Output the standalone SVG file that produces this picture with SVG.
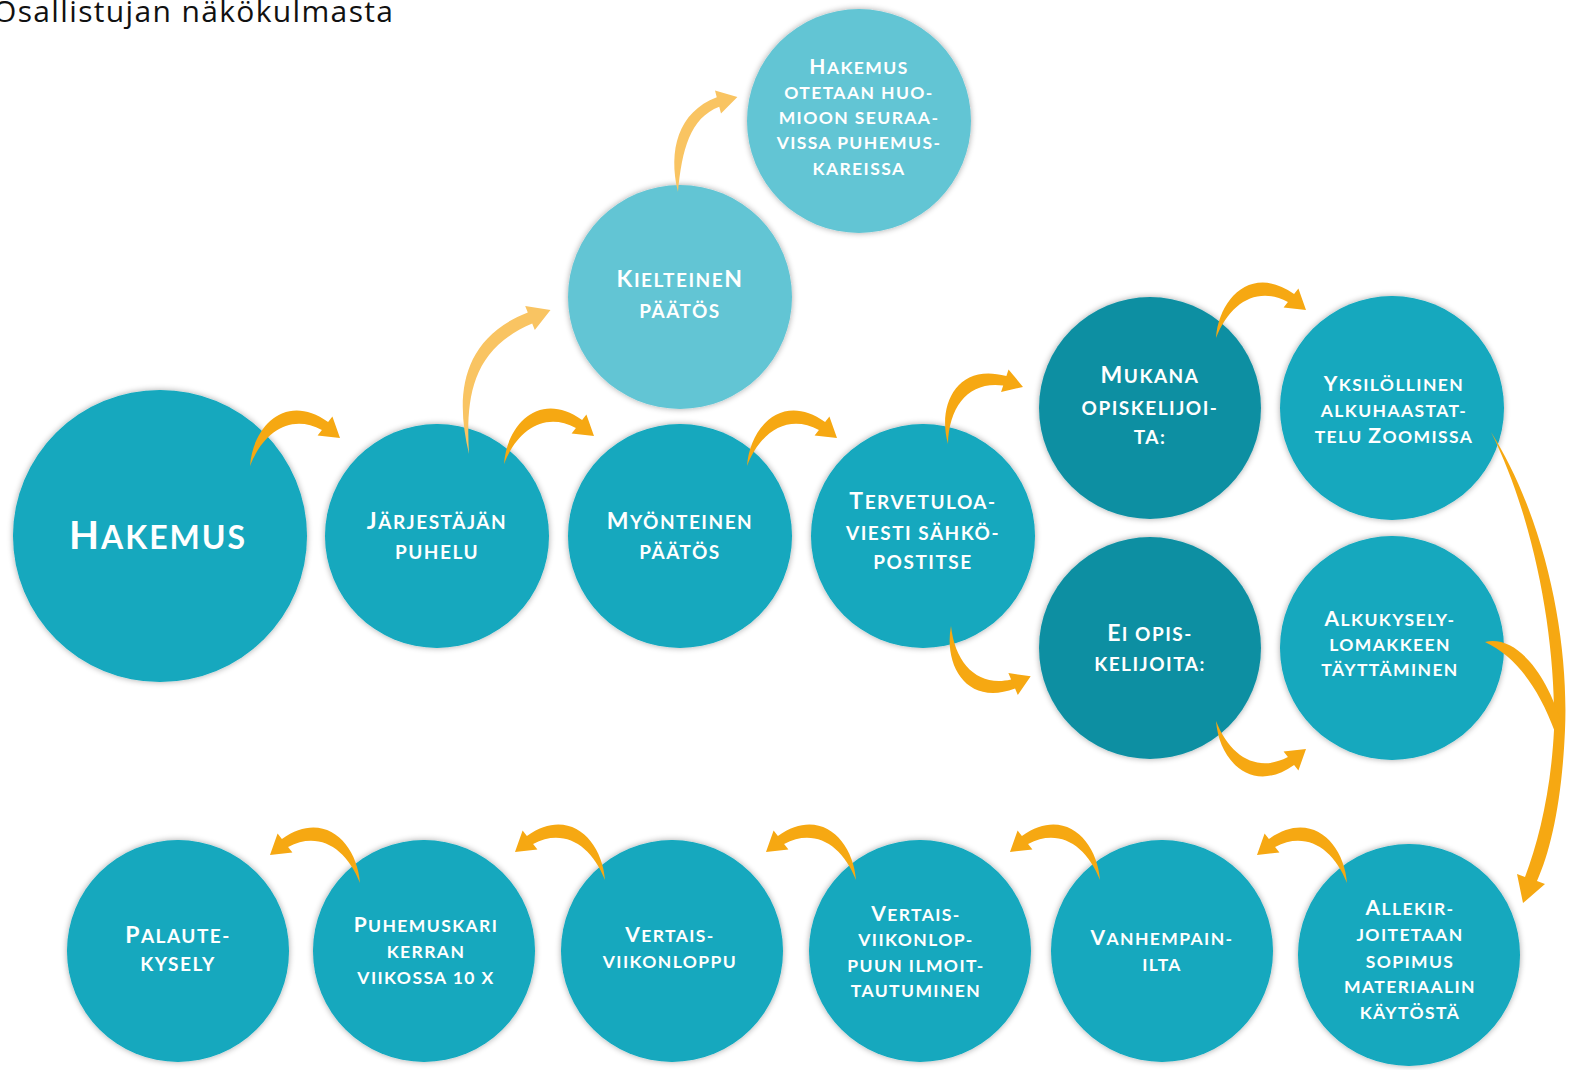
<svg xmlns="http://www.w3.org/2000/svg" width="1582" height="1070" viewBox="0 0 1582 1070">
<style>
.c{fill:#12a8be;filter:url(#sh)}
.cl{fill:#62c5d4;filter:url(#sh)}
.cd{fill:#0c8fa2;filter:url(#sh)}
.t{font-family:Lato,"Open Sans",sans-serif;font-weight:700;fill:#fff;text-anchor:middle;letter-spacing:1.5px;font-size:19px}
.t .i{font-size:23px}
.s{font-size:17.5px;letter-spacing:1.4px}
.s .i{font-size:21px}
.big{font-size:32px;letter-spacing:2px}
.big .i{font-size:39px}
.a{fill:#f6a812}
.al{fill:#f9c462}
.title{font-family:"Open Sans","Noto Sans",sans-serif;font-size:30px;fill:#111}
</style>
<defs>
<filter id="sh" x="-10%" y="-10%" width="120%" height="120%">
<feGaussianBlur in="SourceAlpha" stdDeviation="3"/>
<feComponentTransfer><feFuncA type="linear" slope="0.35"/></feComponentTransfer>
<feMerge><feMergeNode/><feMergeNode in="SourceGraphic"/></feMerge>
</filter>
<path id="arc" d="M0,0 C3,-40 36,-74 78.1,-43.9 L82.4,-49.4 L90,-28 L67.6,-30.6 L71.9,-36.1 C42,-52 14,-36 0,0 Z"/>
</defs>
<rect width="1582" height="1070" fill="#fff"/>
<text class="title" x="-7" y="22" textLength="400" lengthAdjust="spacing">Osallistujan näkökulmasta</text>

<g id="n-hakemus"><ellipse class="c" cx="160" cy="536" rx="147" ry="146"/><text class="t big" x="158" y="549"><tspan class="i">H</tspan>AKEMUS</text></g>
<g id="n-puhelu"><circle class="c" cx="437" cy="536" r="112"/><text class="t" x="437" y="529"><tspan class="i">J</tspan>ÄRJESTÄJÄN</text><text class="t" x="437" y="559">PUHELU</text></g>
<g id="n-myonteinen"><circle class="c" cx="680" cy="536" r="112"/><text class="t" x="680" y="529"><tspan class="i">M</tspan>YÖNTEINEN</text><text class="t" x="680" y="559">PÄÄTÖS</text></g>
<g id="n-tervetuloa"><circle class="c" cx="923" cy="536" r="112"/><text class="t" x="923" y="509"><tspan class="i">T</tspan>ERVETULOA-</text><text class="t" x="923" y="540">VIESTI SÄHKÖ-</text><text class="t" x="923" y="569">POSTITSE</text></g>
<g id="n-kielteinen"><circle class="cl" cx="680" cy="297" r="112"/><text class="t" x="680" y="287"><tspan class="i">K</tspan>IELTEINE<tspan class="i">N</tspan></text><text class="t" x="680" y="318">PÄÄTÖS</text></g>
<g id="n-huomioon"><circle class="cl" cx="859" cy="121" r="112"/><text class="t s" x="859" y="74"><tspan class="i">H</tspan>AKEMUS</text><text class="t s" x="859" y="99">OTETAAN HUO-</text><text class="t s" x="859" y="124">MIOON SEURAA-</text><text class="t s" x="859" y="149">VISSA PUHEMUS-</text><text class="t s" x="859" y="175">KAREISSA</text></g>
<g id="n-mukana"><circle class="cd" cx="1150" cy="408" r="111"/><text class="t" x="1150" y="383"><tspan class="i">M</tspan>UKANA</text><text class="t" x="1150" y="415">OPISKELIJOI-</text><text class="t" x="1150" y="444">TA:</text></g>
<g id="n-ei"><circle class="cd" cx="1150" cy="648" r="111"/><text class="t" x="1150" y="641"><tspan class="i">E</tspan>I OPIS-</text><text class="t" x="1150" y="671">KELIJOITA:</text></g>
<g id="n-yksilollinen"><circle class="c" cx="1392" cy="408" r="112"/><text class="t s" x="1394" y="391"><tspan class="i">Y</tspan>KSILÖLLINEN</text><text class="t s" x="1394" y="417">ALKUHAASTAT-</text><text class="t s" x="1394" y="443">TELU <tspan class="i">Z</tspan>OOMISSA</text></g>
<g id="n-alkukysely"><circle class="c" cx="1392" cy="648" r="112"/><text class="t s" x="1390" y="626"><tspan class="i">A</tspan>LKUKYSELY-</text><text class="t s" x="1390" y="651">LOMAKKEEN</text><text class="t s" x="1390" y="676">TÄYTTÄMINEN</text></g>
<g id="n-palaute"><circle class="c" cx="178" cy="951" r="111"/><text class="t" x="178" y="943"><tspan class="i">P</tspan>ALAUTE-</text><text class="t" x="178" y="971">KYSELY</text></g>
<g id="n-puhemuskari"><circle class="c" cx="424" cy="951" r="111"/><text class="t s" x="426" y="932"><tspan class="i">P</tspan>UHEMUSKARI</text><text class="t s" x="426" y="958">KERRAN</text><text class="t s" x="426" y="984">VIIKOSSA 10 X</text></g>
<g id="n-vertais"><circle class="c" cx="672" cy="951" r="111"/><text class="t s" x="670" y="942"><tspan class="i">V</tspan>ERTAIS-</text><text class="t s" x="670" y="968">VIIKONLOPPU</text></g>
<g id="n-ilmoittautuminen"><circle class="c" cx="920" cy="951" r="111"/><text class="t s" x="916" y="921"><tspan class="i">V</tspan>ERTAIS-</text><text class="t s" x="916" y="946">VIIKONLOP-</text><text class="t s" x="916" y="972">PUUN ILMOIT-</text><text class="t s" x="916" y="997">TAUTUMINEN</text></g>
<g id="n-vanhempainilta"><circle class="c" cx="1162" cy="951" r="111"/><text class="t s" x="1162" y="945"><tspan class="i">V</tspan>ANHEMPAIN-</text><text class="t s" x="1162" y="971">ILTA</text></g>
<g id="n-sopimus"><circle class="c" cx="1409" cy="955" r="111"/><text class="t s" x="1410" y="915"><tspan class="i">A</tspan>LLEKIR-</text><text class="t s" x="1410" y="941">JOITETAAN</text><text class="t s" x="1410" y="968">SOPIMUS</text><text class="t s" x="1410" y="993">MATERIAALIN</text><text class="t s" x="1410" y="1019">KÄYTÖSTÄ</text></g>

<g id="connectors">
<use href="#arc" class="a" transform="translate(250,466)"/>
<use href="#arc" class="a" transform="translate(504,464)"/>
<use href="#arc" class="a" transform="translate(747,466)"/>
<use href="#arc" class="a" transform="translate(948,444) rotate(-20)"/>
<use href="#arc" class="a" transform="translate(951,626) rotate(15) scale(1,-1)"/>
<use href="#arc" class="a" transform="translate(1216,338)"/>
<use href="#arc" class="a" transform="translate(1216,721) scale(1,-1)"/>
<use href="#arc" class="a" transform="translate(1347,883) scale(-1,1)"/>
<use href="#arc" class="a" transform="translate(1100,880) scale(-1,1)"/>
<use href="#arc" class="a" transform="translate(856,880) scale(-1,1)"/>
<use href="#arc" class="a" transform="translate(605,880) scale(-1,1)"/>
<use href="#arc" class="a" transform="translate(360,883) scale(-1,1)"/>
<path class="al" d="M469,454 C456,400 458,340 527.8,312.4 L525.2,305.9 L550.5,309.9 L534.8,330.1 L532.2,323.6 C470,350 466,400 469,454 Z"/>
<path class="al" d="M678,192 C668,150 678,112 716.75,97.15 L715,90.4 L737.4,97 L721,113.6 L719.25,106.85 C690,118 682,150 678,192 Z"/>
<path class="a" d="M1491,432 C1546,520 1569,640 1565,730 C1562,800 1551,850 1537,881 L1545,884 L1523,903 L1517,874 L1525,877 C1539,840 1551,790 1554,730 C1556,640 1535,520 1491,432 Z"/>
<path class="a" d="M1485,642 C1515,635 1546,670 1563,728 L1555,732 C1538,686 1515,656 1485,642 Z"/>
</g>
</svg>
